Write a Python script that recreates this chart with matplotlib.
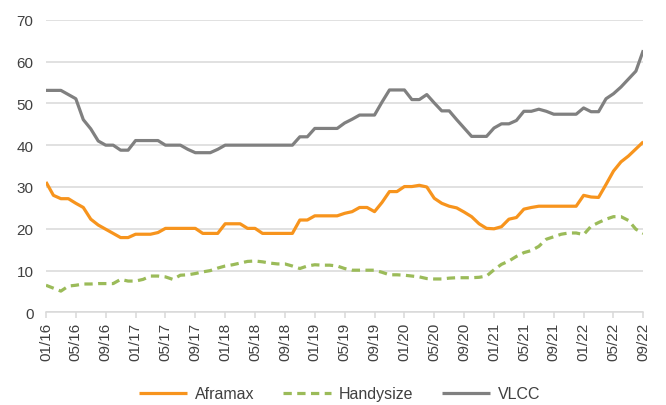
import matplotlib
matplotlib.use('Agg')
import matplotlib.pyplot as plt
import pandas as pd

plt.rcParams['font.family'] = ['Liberation Sans', 'DejaVu Sans']

months = pd.date_range('2016-01-01', '2022-09-01', freq='MS')

aframax = [31.2, 28.0, 27.2, 27.2, 26.1, 25.1, 22.3, 20.9, 19.9, 18.9,
           17.9, 17.9, 18.7, 18.7, 18.7, 19.1, 20.1, 20.1, 20.1, 20.1,
           20.1, 18.9, 18.9, 18.9, 21.2, 21.2, 21.2, 20.1, 20.1, 18.9,
           18.9, 18.9, 18.9, 18.9, 22.1, 22.1, 23.1, 23.1, 23.1, 23.1,
           23.7, 24.1, 25.1, 25.1, 24.1, 26.3, 28.9, 28.9, 30.1, 30.1,
           30.4, 30.0, 27.3, 26.1, 25.4, 25.0, 24.0, 22.9, 21.2, 20.1,
           20.0, 20.5, 22.3, 22.7, 24.7, 25.1, 25.4, 25.4, 25.4, 25.4,
           25.4, 25.4, 28.0, 27.6, 27.5, 30.6, 33.8, 36.0, 37.4, 39.1,
           40.8]

handysize = [6.5, 5.8, 5.1, 6.3, 6.5, 6.8, 6.8, 6.9, 6.9, 6.9,
             7.9, 7.5, 7.5, 7.9, 8.7, 8.7, 8.5, 7.9, 8.9, 9.0,
             9.3, 9.7, 10.0, 10.6, 11.1, 11.4, 11.8, 12.2, 12.3, 12.1,
             11.8, 11.6, 11.6, 11.1, 10.5, 11.1, 11.4, 11.3, 11.3, 11.1,
             10.5, 10.1, 10.1, 10.1, 10.1, 9.6, 9.0, 9.0, 8.9, 8.7,
             8.5, 8.1, 8.0, 8.0, 8.2, 8.3, 8.3, 8.3, 8.4, 8.7,
             10.2, 11.5, 12.3, 13.4, 14.3, 14.8, 15.8, 17.5, 18.1, 18.7,
             19.0, 19.0, 18.6, 20.6, 21.5, 22.3, 22.9, 22.9, 22.0, 19.9,
             18.9]

vlcc = [53.1, 53.1, 53.1, 52.1, 51.1, 46.1, 43.9, 41.0, 40.0, 40.0,
        38.8, 38.8, 41.1, 41.1, 41.1, 41.1, 40.0, 40.0, 40.0, 39.0,
        38.2, 38.2, 38.2, 39.0, 40.0, 40.0, 40.0, 40.0, 40.0, 40.0,
        40.0, 40.0, 40.0, 40.0, 42.0, 42.0, 44.0, 44.0, 44.0, 44.0,
        45.3, 46.2, 47.2, 47.2, 47.2, 50.3, 53.2, 53.2, 53.2, 50.9,
        50.9, 52.1, 50.1, 48.2, 48.2, 46.1, 44.1, 42.1, 42.1, 42.1,
        44.1, 45.1, 45.1, 45.9, 48.1, 48.1, 48.6, 48.1, 47.4, 47.4,
        47.4, 47.4, 48.9, 48.0, 48.0, 51.1, 52.3, 53.9, 55.8, 57.7,
        62.7]

x = list(range(len(months)))
tick_pos = x[::4]
tick_labels = [m.strftime('%m/%y') for m in months[::4]]

fig = plt.figure(figsize=(6.66, 4.06), dpi=100)
ax = fig.add_axes([0.069, 0.228, 0.897, 0.721])

ax.plot(x, aframax, color='#F7941D', lw=2.3, label='Aframax', solid_capstyle='butt')
ax.plot(x, handysize, color='#9BBB59', lw=2.3, ls=(0, (2.6, 1.7)), label='Handysize')
ax.plot(x, vlcc, color='#808080', lw=2.3, label='VLCC', solid_capstyle='butt')

ax.set_xlim(0, len(x) - 1)
ax.set_ylim(0, 70)
ax.set_yticks(range(0, 71, 10))
ax.set_xticks(tick_pos)
ax.set_xticklabels(tick_labels, rotation=90)

ax.grid(axis='y', color='#D9D9D9', lw=1.1)
ax.set_axisbelow(True)
for s in ['top', 'right', 'left']:
    ax.spines[s].set_visible(False)
ax.spines['bottom'].set_color('#D9D9D9')
ax.spines['bottom'].set_linewidth(1.1)
ax.tick_params(axis='y', length=0, pad=9, labelsize=11, labelcolor='#404040')
ax.tick_params(axis='x', length=4, color='#D9D9D9', width=1.1, labelsize=11,
               labelcolor='#404040', pad=3)

fig.legend(loc='center', bbox_to_anchor=(0.51, 11 / 406), ncol=3, frameon=False,
           fontsize=11.5, handlelength=3.0, columnspacing=1.8, handletextpad=0.5,
           labelcolor='#404040')

fig.savefig('out.png', dpi=100)
